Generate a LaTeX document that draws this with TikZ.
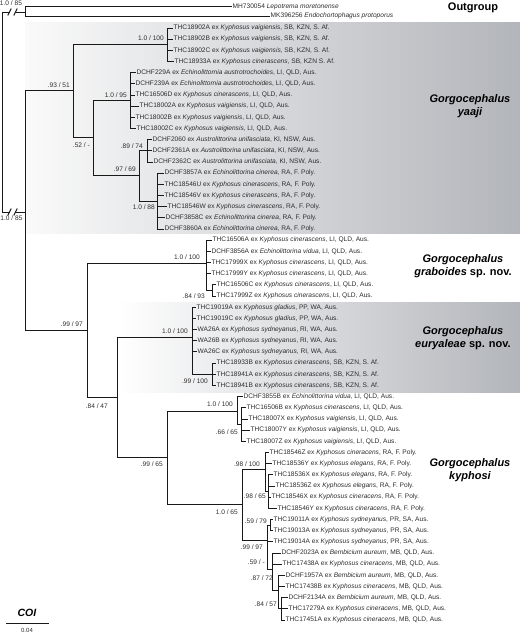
\documentclass[tikz,border=0pt]{standalone}
\usepackage{fontspec}
\setmainfont{Liberation Sans}
\definecolor{txtgray}{RGB}{45,45,45}
\definecolor{boxgray}{RGB}{178,181,186}
\definecolor{boxlight}{RGB}{250,250,250}
\newcommand{\lfx}[3]{#1 ex \textit{#2}, #3}
\begin{document}
\begin{tikzpicture}[x=1pt,y=-1pt,
  br/.style={line width=1pt, draw=black!90, line cap=rect},
  leaf/.style={anchor=west, inner xsep=1.5pt, inner ysep=0pt, font=\fontsize{6.6}{7}\selectfont, text=txtgray},
  supp/.style={inner sep=0pt, anchor=east, font=\fontsize{6.6}{7}\selectfont, text=txtgray},
  clade/.style={font=\fontsize{11}{12.5}\selectfont\bfseries\itshape, align=center, text=black}]
\useasboundingbox (0,0) rectangle (520,633);
% shaded clade boxes
\shade[left color=boxlight, right color=boxgray] (25,22) rectangle (520,233);
\shade[left color=white, right color=boxgray] (117,302) rectangle (520,392);
% ---------- leaves ----------
\node[leaf] (l1) at (231,6.5) {MH730054 \textit{Lepotrema moretonense}};
\node[leaf] (l2) at (269,16) {MK396256 \textit{Endochortophagus protoporus}};
\node[leaf] (l3) at (172,28.0) {\lfx{THC18902A}{Kyphosus vaigiensis}{SB, KZN, S. Af.}};
\node[leaf] (l4) at (172,39.2) {\lfx{THC18902B}{Kyphosus vaigiensis}{SB, KZN, S. Af.}};
\node[leaf] (l5) at (172,50.3) {\lfx{THC18902C}{Kyphosus vaigiensis}{SB, KZN, S. Af.}};
\node[leaf] (l6) at (173,61.5) {\lfx{THC18933A}{Kyphosus cinerascens}{SB, KZN S. Af.}};
\node[leaf] (l7) at (135,72.7) {\lfx{DCHF229A}{Echinolittornia austrotrochoides}{LI, QLD, Aus.}};
\node[leaf] (l8) at (134,83.9) {\lfx{DCHF239A}{Echinolittornia austrotrochoides}{LI, QLD, Aus.}};
\node[leaf] (l9) at (134,95.0) {\lfx{THC16506D}{Kyphosus cinerascens}{LI, QLD, Aus.}};
\node[leaf] (l10) at (138,106.2) {\lfx{THC18002A}{Kyphosus vaigiensis}{LI, QLD, Aus.}};
\node[leaf] (l11) at (134,117.4) {\lfx{THC18002B}{Kyphosus vaigiensis}{LI, QLD, Aus.}};
\node[leaf] (l12) at (135,128.5) {\lfx{THC18002C}{Kyphosus vaigiensis}{LI, QLD, Aus.}};
\node[leaf] (l13) at (151,139.7) {\lfx{DCHF2060}{Austrolittorina unifasciata}{KI, NSW, Aus.}};
\node[leaf] (l14) at (151,150.9) {\lfx{DCHF2361A}{Austrolittorina unifasciata}{KI, NSW, Aus.}};
\node[leaf] (l15) at (152,162.0) {\lfx{DCHF2362C}{Austrolittorina unifasciata}{KI, NSW, Aus.}};
\node[leaf] (l16) at (163,173.2) {\lfx{DCHF3857A}{Echinolittorina cinerea}{RA, F. Poly.}};
\node[leaf] (l17) at (163,184.4) {\lfx{THC18546U}{Kyphosus cinerascens}{RA, F. Poly.}};
\node[leaf] (l18) at (163,195.6) {\lfx{THC18546V}{Kyphosus cinerascens}{RA, F. Poly.}};
\node[leaf] (l19) at (166,206.7) {\lfx{THC18546W}{Kyphosus cinerascens}{RA, F. Poly.}};
\node[leaf] (l20) at (164,217.9) {\lfx{DCHF3858C}{Echinolittorina cinerea}{RA, F. Poly.}};
\node[leaf] (l21) at (163,229.1) {\lfx{DCHF3860A}{Echinolittorina cinerea}{RA, F. Poly.}};
\node[leaf] (l22) at (211,240.2) {\lfx{THC16506A}{Kyphosus cinerascens}{LI, QLD, Aus.}};
\node[leaf] (l23) at (210,251.4) {\lfx{DCHF3856A}{Echinolittorina vidua}{LI, QLD, Aus.}};
\node[leaf] (l24) at (210,262.6) {\lfx{THC17999X}{Kyphosus cinerascens}{LI, QLD, Aus.}};
\node[leaf] (l25) at (210,273.7) {\lfx{THC17999Y}{Kyphosus cinerascens}{LI, QLD, Aus.}};
\node[leaf] (l26) at (215,284.9) {\lfx{THC16506C}{Kyphosus cinerascens}{LI, QLD, Aus.}};
\node[leaf] (l27) at (215,296.1) {\lfx{THC17999Z}{Kyphosus cinerascens}{LI, QLD, Aus.}};
\node[leaf] (l28) at (195,307.3) {\lfx{THC19019A}{Kyphosus gladius}{PP, WA, Aus.}};
\node[leaf] (l29) at (195,318.4) {\lfx{THC19019C}{Kyphosus gladius}{PP, WA, Aus.}};
\node[leaf] (l30) at (196,329.6) {\lfx{WA26A}{Kyphosus sydneyanus}{RI, WA, Aus.}};
\node[leaf] (l31) at (196,340.8) {\lfx{WA26B}{Kyphosus sydneyanus}{RI, WA, Aus.}};
\node[leaf] (l32) at (196,351.9) {\lfx{WA26C}{Kyphosus sydneyanus}{RI, WA, Aus.}};
\node[leaf] (l33) at (215,363.1) {\lfx{THC18933B}{Kyphosus cinerascens}{SB, KZN, S. Af.}};
\node[leaf] (l34) at (215,374.3) {\lfx{THC18941A}{Kyphosus cinerascens}{SB, KZN, S. Af.}};
\node[leaf] (l35) at (215,385.5) {\lfx{THC18941B}{Kyphosus cinerascens}{SB, KZN, S. Af.}};
\node[leaf] (l36) at (242,396.6) {\lfx{DCHF3855B}{Echinolittorina vidua}{LI, QLD, Aus.}};
\node[leaf] (l37) at (245,407.8) {\lfx{THC16506B}{Kyphosus cinerascens}{LI, QLD, Aus.}};
\node[leaf] (l38) at (247,419.0) {\lfx{THC18007X}{Kyphosus vaigiensis}{LI, QLD, Aus.}};
\node[leaf] (l39) at (249,430.1) {\lfx{THC18007Y}{Kyphosus vaigiensis}{LI, QLD, Aus.}};
\node[leaf] (l40) at (245,441.3) {\lfx{THC18007Z}{Kyphosus vaigiensis}{LI, QLD, Aus.}};
\node[leaf] (l41) at (268,452.5) {\lfx{THC18546Z}{Kyphosus cineracens}{RA, F. Poly.}};
\node[leaf] (l42) at (271,463.7) {\lfx{THC18536Y}{Kyphosus elegans}{RA, F. Poly.}};
\node[leaf] (l43) at (272,474.8) {\lfx{THC18536X}{Kyphosus elegans}{RA, F. Poly.}};
\node[leaf] (l44) at (274,486.0) {\lfx{THC18536Z}{Kyphosus elegans}{RA, F. Poly.}};
\node[leaf] (l45) at (270,497.2) {\lfx{THC18546X}{Kyphosus cineracens}{RA, F. Poly.}};
\node[leaf] (l46) at (276,508.3) {\lfx{THC18546Y}{Kyphosus cineracens}{RA, F. Poly.}};
\node[leaf] (l47) at (272,519.5) {\lfx{THC19011A}{Kyphosus sydneyanus}{PR, SA, Aus.}};
\node[leaf] (l48) at (272,530.7) {\lfx{THC19013A}{Kyphosus sydneyanus}{PR, SA, Aus.}};
\node[leaf] (l49) at (272,541.8) {\lfx{THC19014A}{Kyphosus sydneyanus}{PR, SA, Aus.}};
\node[leaf] (l50) at (280,553.0) {\lfx{DCHF2023A}{Bembicium aureum}{MB, QLD, Aus.}};
\node[leaf] (l51) at (281,564.2) {\lfx{THC17438A}{Kyphosus cineracens}{MB, QLD, Aus.}};
\node[leaf] (l52) at (284,575.4) {\lfx{DCHF1957A}{Bembicium aureum}{MB, QLD, Aus.}};
\node[leaf] (l53) at (284,586.5) {\lfx{THC17438B}{Kyphosus cineracens}{MB, QLD, Aus.}};
\node[leaf] (l54) at (287,597.7) {\lfx{DCHF2134A}{Bembicium aureum}{MB, QLD, Aus.}};
\node[leaf] (l55) at (287,608.9) {\lfx{THC17279A}{Kyphosus cineracens}{MB, QLD, Aus.}};
\node[leaf] (l56) at (284,620.0) {\lfx{THC17451A}{Kyphosus cineracens}{MB, QLD, Aus.}};
% ---------- internal nodes ----------
\coordinate (R1) at (2,12);
\coordinate (R2) at (2,212);
\coordinate (O) at (25,12);
\coordinate (I) at (25,212);
\coordinate (Y) at (73,90);
\coordinate (A1) at (167,44.7);
\coordinate (Y2) at (93,137);
\coordinate (B1) at (130,100.6);
\coordinate (Y3) at (139,175);
\coordinate (C1) at (147,150.9);
\coordinate (C2) at (157,201.1);
\coordinate (N1) at (87,330);
\coordinate (D1) at (206,263.4);
\coordinate (D2) at (212,290.5);
\coordinate (N2) at (117,397);
\coordinate (E1) at (192,337);
\coordinate (E2) at (212,374.3);
\coordinate (N3) at (167,457);
\coordinate (F1) at (237,411);
\coordinate (F2) at (241,424.6);
\coordinate (K) at (242,504);
\coordinate (K1) at (265,469.3);
\coordinate (K2) at (268,491.6);
\coordinate (K3) at (267,540);
\coordinate (K4) at (270,525.1);
\coordinate (K5) at (272,569.2);
\coordinate (K6) at (278,590.3);
\coordinate (K7) at (281,608.9);
% break marks on the two root stems
\coordinate (bo1) at (9.5,12); \coordinate (bo2) at (15.5,12);
\coordinate (bi1) at (9.5,212); \coordinate (bi2) at (15.5,212);
% ---------- branches ----------
\draw[br] (R1) -- (R2);
\draw[br] (R1) -- (bo1); \draw[br] (bo2) -- (O);
\draw[br] (R2) -- (bi1); \draw[br] (bi2) -- (I);
\foreach \b in {bo1,bi1} {\draw[br] ([shift={(-1.5,3)}]\b) -- ([shift={(1.5,-3)}]\b);}
\foreach \b in {bo2,bi2} {\draw[br] ([shift={(-1.5,3)}]\b) -- ([shift={(1.5,-3)}]\b);}
\foreach \c in {l1,l2} {\draw[br] (O) |- (\c.west);}
\foreach \c in {Y,N1} {\draw[br] (I) |- (\c);}
\foreach \c in {A1,Y2} {\draw[br] (Y) |- (\c);}
\foreach \c in {l3,l4,l5,l6} {\draw[br] (A1) |- (\c.west);}
\foreach \c in {B1,Y3} {\draw[br] (Y2) |- (\c);}
\foreach \c in {l7,l8,l9,l10,l11,l12} {\draw[br] (B1) |- (\c.west);}
\foreach \c in {C1,C2} {\draw[br] (Y3) |- (\c);}
\foreach \c in {l13,l14,l15} {\draw[br] (C1) |- (\c.west);}
\foreach \c in {l16,l17,l18,l19,l20,l21} {\draw[br] (C2) |- (\c.west);}
\foreach \c in {D1,N2} {\draw[br] (N1) |- (\c);}
\foreach \c in {l22,l23,l24,l25} {\draw[br] (D1) |- (\c.west);}
\draw[br] (D1) |- (D2);
\foreach \c in {l26,l27} {\draw[br] (D2) |- (\c.west);}
\foreach \c in {E1,N3} {\draw[br] (N2) |- (\c);}
\foreach \c in {l28,l29,l30,l31,l32} {\draw[br] (E1) |- (\c.west);}
\draw[br] (E1) |- (E2);
\foreach \c in {l33,l34,l35} {\draw[br] (E2) |- (\c.west);}
\foreach \c in {F1,K} {\draw[br] (N3) |- (\c);}
\draw[br] (F1) |- (l36.west);
\draw[br] (F1) |- (F2);
\foreach \c in {l37,l38,l39,l40} {\draw[br] (F2) |- (\c.west);}
\foreach \c in {K1,K3} {\draw[br] (K) |- (\c);}
\foreach \c in {l41,l42} {\draw[br] (K1) |- (\c.west);}
\draw[br] (K1) |- (K2);
\foreach \c in {l43,l44,l45,l46} {\draw[br] (K2) |- (\c.west);}
\draw[br] (K3) |- (K4);
\draw[br] (K3) |- (l49.west);
\draw[br] (K3) |- (K5);
\foreach \c in {l47,l48} {\draw[br] (K4) |- (\c.west);}
\foreach \c in {l50,l51} {\draw[br] (K5) |- (\c.west);}
\draw[br] (K5) |- (K6);
\foreach \c in {l52,l53} {\draw[br] (K6) |- (\c.west);}
\draw[br] (K6) |- (K7);
\foreach \c in {l54,l55,l56} {\draw[br] (K7) |- (\c.west);}
% ---------- support values ----------
\node[supp, anchor=center] (s1) at (11,3.5) {1.0 / 85};
\node[supp, anchor=center] (s2) at (11.5,218.5) {1.0 / 85};
\node[supp] (s3) at (70,85) {.93 / 51};
\node[supp] (s4) at (164,38) {1.0 / 100};
\node[supp] (s5) at (127,95) {1.0 / 95};
\node[supp] (s6) at (90,145) {.52 / -};
\node[supp] (s7) at (143,146) {.89 / 74};
\node[supp] (s8) at (136,169) {.97 / 69};
\node[supp] (s9) at (155,207) {1.0 / 88};
\node[supp] (s10) at (83,324) {.99 / 97};
\node[supp] (s11) at (200,257) {1.0 / 100};
\node[supp] (s12) at (205,296) {.84 / 93};
\node[supp] (s13) at (108,406) {.84 / 47};
\node[supp] (s14) at (188,331) {1.0 / 100};
\node[supp] (s15) at (208,381) {.99 / 100};
\node[supp] (s16) at (163,464) {.99 / 65};
\node[supp] (s17) at (233,404) {1.0 / 100};
\node[supp] (s18) at (238,432) {.66 / 65};
\node[supp] (s19) at (238,512) {1.0 / 65};
\node[supp] (s20) at (260,464) {.98 / 100};
\node[supp] (s21) at (266,496) {.98 / 65};
\node[supp] (s22) at (263,547) {.99 / 97};
\node[supp] (s23) at (267,521) {.59 / 79};
\node[supp] (s24) at (265,562) {.59 / -};
\node[supp] (s25) at (273,578) {.87 / 72};
\node[supp] (s26) at (277,604) {.84 / 57};
% ---------- clade names ----------
\node[font=\fontsize{11}{12.5}\selectfont\bfseries] (tout) at (473,8) {Outgroup};
\node[clade] (tya) at (470,106) {Gorgocephalus\\yaaji};
\node[clade] (tgr) at (463,266) {Gorgocephalus\\graboides \upshape sp. nov.};
\node[clade] (teu) at (463,338) {Gorgocephalus\\euryaleae \upshape sp. nov.};
\node[clade] (tky) at (470,470) {Gorgocephalus\\kyphosi};
% ---------- scale bar ----------
\coordinate (sb1) at (6,623);
\coordinate (sb2) at (48,623);
\draw[br] (sb1) -- (sb2);
\node[font=\fontsize{10.5}{12}\selectfont\bfseries\itshape] (coi) at (27,613) {COI};
\node[supp, anchor=center, font=\fontsize{6}{7}\selectfont] (sbl) at (27,630) {0.04};
\end{tikzpicture}
\end{document}
